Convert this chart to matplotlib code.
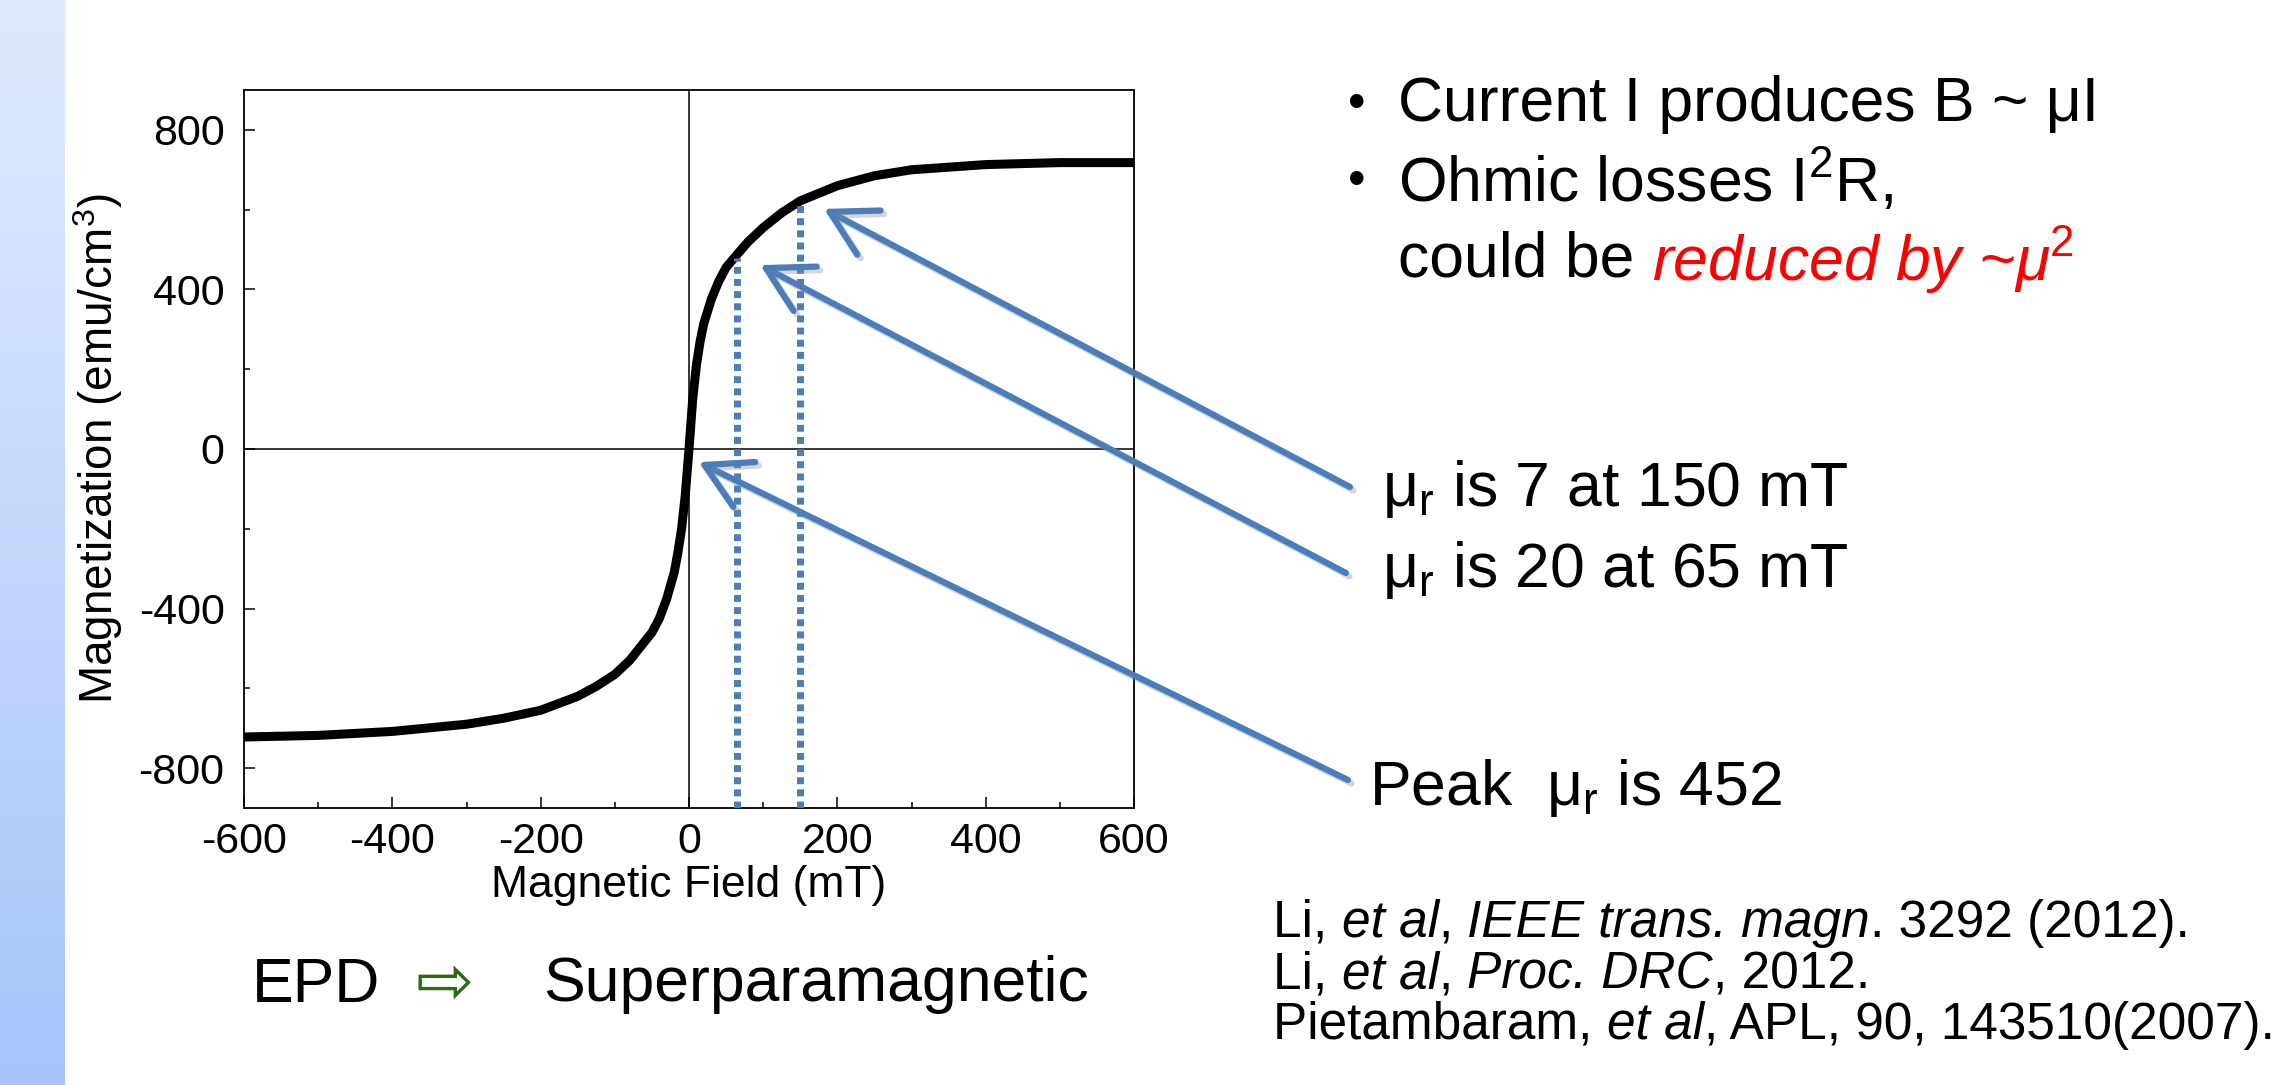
import matplotlib.pyplot as plt
import matplotlib.patheffects as pe
from matplotlib.font_manager import FontProperties
import numpy as np

plt.rcParams['font.family'] = ['Liberation Sans', 'DejaVu Sans']
plt.rcParams['mathtext.fontset'] = 'custom'
plt.rcParams['mathtext.rm'] = 'Liberation Sans'
plt.rcParams['mathtext.it'] = 'Liberation Sans:italic'
plt.rcParams['mathtext.bf'] = 'Liberation Sans:bold'
plt.rcParams['axes.unicode_minus'] = False

# M-H loop (EPD film)
field_mT = [-600, -500, -400, -300, -250, -200, -150, -125, -100, -80, -65, -50,
            -40, -30, -20, -15, -10, -5, 0,
            5, 10, 15, 20, 30, 40, 50, 65, 80, 100, 125, 150, 200, 250, 300,
            400, 500, 600]
magnetization = [-722, -718, -708, -690, -675, -655, -620, -595, -565, -530, -495, -460,
                 -425, -375, -310, -260, -200, -115, 0,
                 125, 210, 270, 315, 375, 420, 455, 488, 520, 555, 592, 622, 660, 685, 700,
                 713, 718, 718]

# dotted markers at 65 mT and 150 mT
marker_fields = [65, 150]
marker_tops = [480, 612]

# arrow tips (data) and the label each arrow starts from
arrow_tips = [(182, 602), (96, 461), (13, -33)]
arrow_labels = [r'μ$_\mathrm{r}$ is 7 at 150 mT',
                r'μ$_\mathrm{r}$ is 20 at 65 mT',
                r'Peak  μ$_\mathrm{r}$ is 452']

x_ticks = [-600, -400, -200, 0, 200, 400, 600]
y_ticks = [-800, -400, 0, 400, 800]

bullets = ['Current I produces B ~ μI', r'Ohmic losses I$^2$R,']
# (text, italic?) runs for each reference line
refs = [
    [('Li, ', False), ('et al', True), (', ', False), ('IEEE trans. magn', True),
     ('. 3292 (2012).', False)],
    [('Li, ', False), ('et al', True), (', ', False), ('Proc. DRC', True),
     (', 2012.', False)],
    [('Pietambaram, ', False), ('et al', True), (', APL, 90, 143510(2007).', False)],
]

W, H = 2288, 1085
BLUE = '#4a7ebb'


def fx(px):
    return px / W


def fy(py):
    return 1 - py / H


fig = plt.figure(figsize=(W / 100, H / 100), dpi=100)
renderer = fig.canvas.get_renderer()


def run_width(s, size, italic):
    # sandwich between X's so spaces at the ends are counted
    prop = FontProperties(family='Liberation Sans', size=size,
                          style='italic' if italic else 'normal')
    w1 = renderer.get_text_width_height_descent('X' + s + 'X', prop, ismath=False)[0]
    w0 = renderer.get_text_width_height_descent('XX', prop, ismath=False)[0]
    return w1 - w0


def draw_runs(x, y, runs, size, color='black'):
    for s, italic in runs:
        fig.text(fx(x), fy(y), s, fontsize=size, va='center', color=color,
                 style='italic' if italic else 'normal')
        x += run_width(s, size, italic)


# slide side bar
bar = fig.add_axes([0, 0, fx(65), 1])
grad = np.linspace(0, 1, 256).reshape(-1, 1, 1)
top_c = np.array([224, 234, 253]) / 255
bot_c = np.array([168, 197, 251]) / 255
bar.imshow(top_c * (1 - grad) + bot_c * grad, aspect='auto')
bar.axis('off')

ax = fig.add_axes([fx(244), 1 - 808 / H, 890 / W, 718 / H])
ax.axhline(0, color='black', lw=1.1, zorder=1)
ax.axvline(0, color='black', lw=1.1, zorder=1)
ax.plot(field_mT, magnetization, color='black', lw=6.5, solid_joinstyle='round',
        solid_capstyle='butt', zorder=3)
ax.vlines(marker_fields, -900, marker_tops, colors=BLUE, lw=5,
          linestyles=(0, (1.0, 0.75)), zorder=4)

ax.set_xlim(-600, 600)
ax.set_ylim(-900, 900)
ax.set_xticks(x_ticks)
ax.set_yticks(y_ticks)
ax.set_xticks(np.arange(-500, 600, 200), minor=True)
ax.set_yticks([-600, -200, 200, 600], minor=True)
ax.tick_params(which='both', direction='in', labelsize=31, width=1.1)
ax.tick_params(which='major', length=8)
ax.tick_params(which='minor', length=4)
ax.tick_params(axis='x', pad=10)
ax.tick_params(axis='y', pad=14)
for s in ax.spines.values():
    s.set_linewidth(1.3)
ax.set_xlabel('Magnetic Field (mT)', fontsize=32, labelpad=2)
ax.set_ylabel(r'Magnetization (emu/cm$^3$)', fontsize=33, labelpad=10)

# arrows from the labels to the curve
tails = [(1350, 487), (1346, 573), (1348, 780)]
shadow = [pe.SimpleLineShadow(offset=(2.5, -2.5), shadow_color='#888888', alpha=0.35),
          pe.Normal()]
for (tx, ty), tip in zip(tails, arrow_tips):
    ax.annotate('', xy=tip, xycoords='data', xytext=(fx(tx), fy(ty)),
                textcoords='figure fraction', annotation_clip=False,
                arrowprops=dict(arrowstyle='->, head_length=1.6, head_width=0.9',
                                color=BLUE, lw=4.5, shrinkA=0, shrinkB=0,
                                mutation_scale=20, path_effects=shadow), zorder=5)

# labels at the arrow tails
fig.text(fx(1382), fy(489), arrow_labels[0], fontsize=45, va='center')
fig.text(fx(1382), fy(570), arrow_labels[1], fontsize=45, va='center')
fig.text(fx(1369), fy(788), arrow_labels[2], fontsize=45, va='center')

# bullet list top right
for i, line in enumerate(bullets):
    y = [105, 182][i]
    fig.text(fx(1357), fy(y), '•', fontsize=36, va='center', ha='center')
    fig.text(fx(1398), fy(y), line, fontsize=45, va='center')
fig.text(fx(1398), fy(260), 'could be ', fontsize=45, va='center')
fig.text(fx(1398) + run_width('could be ', 45, False) / W, fy(260),
         r'reduced by ~μ$^2$', fontsize=45, va='center', color='red', style='italic')

# bottom left caption
fig.text(fx(252), fy(985), 'EPD', fontsize=45, va='center')
fig.text(fx(445), fy(985), '⇨', fontsize=50, va='center', ha='center',
         color='#2d6a14', family='DejaVu Sans')
fig.text(fx(543), fy(985), 'Superparamagnetic', fontsize=45, va='center')

# references
for i, runs in enumerate(refs):
    draw_runs(1273, [923, 975, 1025][i], runs, 37)

fig.savefig('out.png', dpi=100)
plt.close()
